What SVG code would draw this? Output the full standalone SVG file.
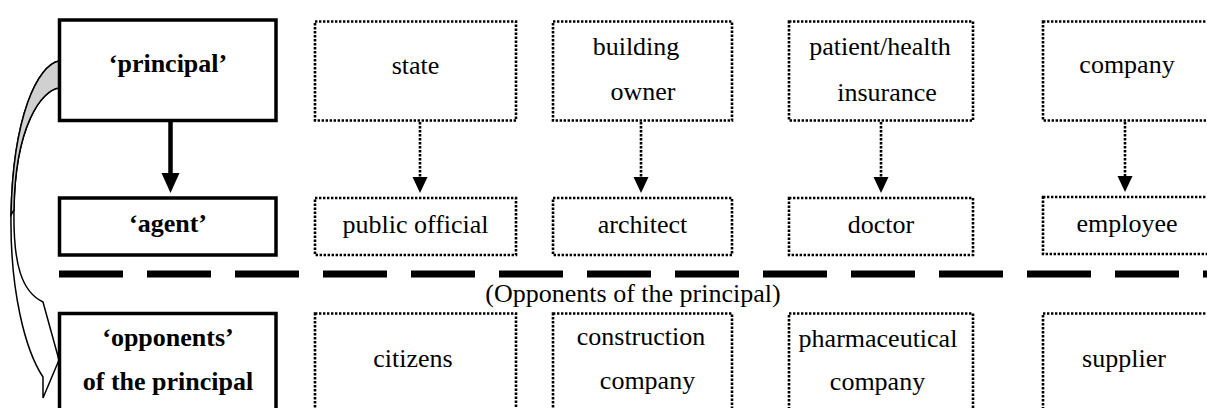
<svg xmlns="http://www.w3.org/2000/svg" width="1207" height="408" viewBox="0 0 1207 408">
  <defs>
    <style>
      .main{fill:#fff;stroke:#000;stroke-width:3.5}
      .dot{fill:#fff;stroke:#000;stroke-width:2.6;stroke-dasharray:2.4 1.6}
      .dl{fill:none;stroke:#000;stroke-width:2.6;stroke-dasharray:2.4 1.6}
      .t{font-family:"Liberation Serif","Times New Roman",serif;font-size:26px;fill:#000;text-anchor:middle}
      .b{font-weight:bold}
      .head{fill:#000}
    </style>
  </defs>
  <rect width="1207" height="408" fill="#fff"/>

  <!-- curved block arrow from principal down to its opponents -->
  <g id="curved-arrow" stroke="#000" stroke-width="1.5" stroke-linejoin="miter">
    <path fill="#fff" d="M59,61 C38,65 13,115 11,215 C10,290 25,350 43,377 L43,398 L59,360 L43,302 C22,292 13,265 14,210 C15,125 42,90 59,88 Z"/>
    <path fill="#d0d0d0" d="M59,61 C38,65 13,115 11,215 L14,210 C15,125 42,90 59,88 Z"/>
  </g>

  <!-- left column: roles -->
  <g id="principal">
    <rect class="main" x="59.5" y="20" width="216.5" height="100.5"/>
    <text class="t b" x="168" y="72">‘principal’</text>
  </g>
  <g id="agent">
    <rect class="main" x="59.5" y="198" width="216.5" height="57"/>
    <text class="t b" x="168" y="232">‘agent’</text>
  </g>
  <g id="opponents">
    <rect class="main" x="59.5" y="313.5" width="216.5" height="110"/>
    <text class="t b" x="168" y="346">‘opponents’</text>
    <text class="t b" x="168" y="390">of the principal</text>
  </g>

  <!-- principals -->
  <g id="state">
    <rect class="dot" x="315" y="21.5" width="201" height="99"/>
    <text class="t" x="415.5" y="74">state</text>
  </g>
  <g id="building-owner">
    <rect class="dot" x="553" y="21.5" width="179" height="99"/>
    <text class="t" x="636" y="55">building</text>
    <text class="t" x="643" y="100">owner</text>
  </g>
  <g id="patient-insurance">
    <rect class="dot" x="789" y="21.5" width="184" height="99"/>
    <text class="t" x="880" y="55">patient/health</text>
    <text class="t" x="887" y="101">insurance</text>
  </g>
  <g id="company">
    <rect class="dot" x="1043" y="21.5" width="168" height="99"/>
    <text class="t" x="1127" y="73">company</text>
  </g>

  <!-- agents -->
  <g id="public-official">
    <rect class="dot" x="315" y="198" width="201" height="57"/>
    <text class="t" x="415.5" y="233">public official</text>
  </g>
  <g id="architect">
    <rect class="dot" x="553" y="198" width="179" height="57"/>
    <text class="t" x="642.5" y="233">architect</text>
  </g>
  <g id="doctor">
    <rect class="dot" x="789" y="198" width="184" height="57"/>
    <text class="t" x="881" y="233">doctor</text>
  </g>
  <g id="employee">
    <rect class="dot" x="1043" y="197" width="168" height="57"/>
    <text class="t" x="1127" y="232">employee</text>
  </g>

  <!-- separator and its caption -->
  <g id="separator">
    <line x1="59" y1="274" x2="1207" y2="274" stroke="#000" stroke-width="7" stroke-dasharray="64 24"/>
    <text class="t" x="633" y="302">(Opponents of the principal)</text>
  </g>

  <!-- opponents -->
  <g id="citizens">
    <rect class="dot" x="315" y="313.5" width="201" height="110"/>
    <text class="t" x="413" y="367">citizens</text>
  </g>
  <g id="construction-company">
    <rect class="dot" x="553" y="313.5" width="179" height="110"/>
    <text class="t" x="641" y="345">construction</text>
    <text class="t" x="647.5" y="389">company</text>
  </g>
  <g id="pharmaceutical-company">
    <rect class="dot" x="789" y="313.5" width="184" height="110"/>
    <text class="t" x="878" y="347">pharmaceutical</text>
    <text class="t" x="877.5" y="390">company</text>
  </g>
  <g id="supplier">
    <rect class="dot" x="1043" y="313.5" width="168" height="110"/>
    <text class="t" x="1124" y="367">supplier</text>
  </g>

  <!-- connectors -->
  <g id="connectors">
    <line x1="170.5" y1="122" x2="170.5" y2="176" stroke="#000" stroke-width="4.5"/>
    <polygon class="head" points="161.5,173 179.5,173 170.5,193"/>

    <line class="dl" x1="420" y1="122" x2="420" y2="179"/>
    <polygon class="head" points="412.5,177 427.5,177 420,193"/>
    <line class="dl" x1="641" y1="122" x2="641" y2="179"/>
    <polygon class="head" points="633.5,177 648.5,177 641,193"/>
    <line class="dl" x1="881" y1="122" x2="881" y2="179"/>
    <polygon class="head" points="873.5,177 888.5,177 881,193"/>
    <line class="dl" x1="1125" y1="122" x2="1125" y2="178"/>
    <polygon class="head" points="1117.5,176 1132.5,176 1125,192"/>
  </g>
</svg>
